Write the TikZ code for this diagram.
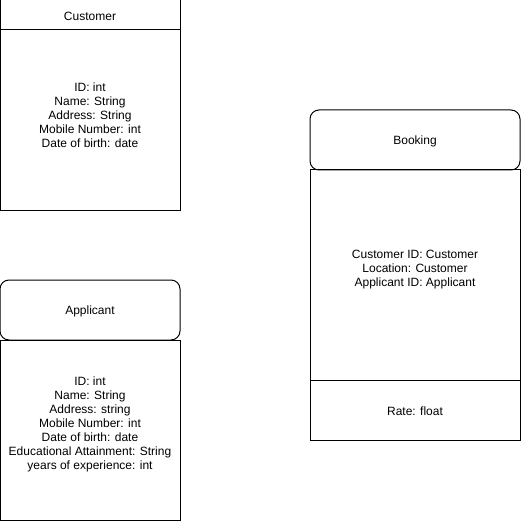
\documentclass[tikz,border=0pt]{standalone}
\usepackage{fontspec}
\setmainfont{Liberation Sans}
\usetikzlibrary{positioning}

\tikzset{
  box/.style={draw, line width=1pt, inner sep=0pt, outer sep=0pt},
  head/.style={box, rounded corners=9pt},
  attr/.style={align=center, inner sep=0pt, font=\fontsize{12}{14}\selectfont}
}

\begin{document}
\begin{tikzpicture}[x=1pt, y=-1pt]
	\useasboundingbox (0,0) rectangle (521,521);
	% customer
	\node [box, minimum width=180pt, minimum height=30pt] (custhead) at (90,15) {};
	\node [attr] (custname) at (90,16) {Customer};
	\node [box, minimum width=180pt, minimum height=180pt] (custbody) at (90,120) {};
	\node [attr] (custattr) at (90,115)
		{ID: int\\Name: String\\Address: String\\Mobile Number: int\\Date of birth: date};
	% applicant
	\node [head, minimum width=180pt, minimum height=60pt] (apphead) at (90,310) {};
	\node [attr] (appname) at (90,311) {Applicant};
	\node [box, minimum width=180pt, minimum height=180pt] (appbody) at (90,430) {};
	\node [attr] (appattr) at (90,424)
		{ID: int\\Name: String\\Address: string\\Mobile Number: int\\Date of birth: date\\Educational Attainment: String\\years of experience: int};
	% booking
	\node [head, minimum width=210pt, minimum height=60pt] (bookhead) at (415,140) {};
	\node [attr] (bookname) at (415,141) {Booking};
	\node [box, minimum width=210pt, minimum height=210pt] (bookbody) at (415,275) {};
	\node [attr] (bookattr) at (415,270)
		{Customer ID: Customer\\Location: Customer\\Applicant ID: Applicant};
	\node [box, minimum width=210pt, minimum height=60pt] (bookrate) at (415,410) {};
	\node [attr] (ratename) at (415,411) {Rate: float};
\end{tikzpicture}
\end{document}
